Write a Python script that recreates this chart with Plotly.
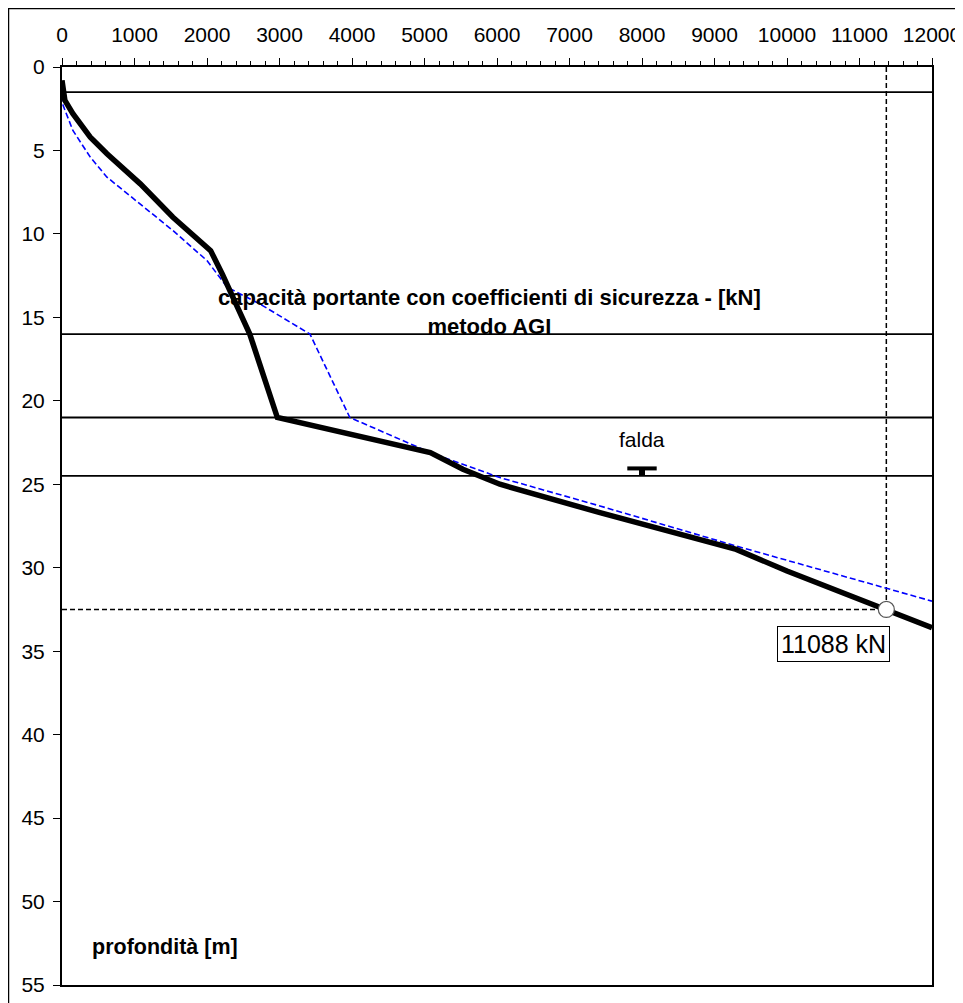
import plotly.graph_objects as go

# --- data ---
cap_black = [0, 40, 150, 390, 620, 1080, 1530, 2050, 2210, 2590, 2970, 4110, 5080, 5530, 6040, 7420, 9300, 10000, 11000, 11370, 12000]
depth_black = [0.8, 2.0, 2.8, 4.2, 5.2, 7.0, 9.0, 11.0, 12.4, 16.0, 21.0, 22.1, 23.1, 24.1, 25.0, 26.7, 28.9, 30.2, 31.9, 32.5, 33.6]

cap_blue = [0, 15, 150, 390, 620, 1080, 1530, 2000, 2280, 2730, 3420, 3970, 5080, 6040, 7420, 9300, 11370, 12000]
depth_blue = [1.7, 2.3, 3.8, 5.4, 6.6, 8.2, 9.8, 11.6, 13.2, 14.2, 16.0, 21.0, 23.1, 24.6, 26.3, 28.7, 31.2, 32.0]

layer_depths = [1.5, 16.0, 21.0, 24.5]
pile_depth = 32.5
pile_cap = 11370
pile_label = "11088 kN"
falda_x = 8000
falda_depth = 24.1

x_ticks = list(range(0, 12001, 1000))
x_ticktext = [str(v) for v in x_ticks]
y_ticks = list(range(0, 56, 5))

FONT = "Liberation Sans, Arial, sans-serif"

fig = go.Figure()

# layer boundaries
for d in layer_depths:
    fig.add_trace(go.Scatter(x=[0, 12000], y=[d, d], mode="lines",
                             line=dict(color="black", width=1.8), hoverinfo="skip"))

# pile depth guides
fig.add_trace(go.Scatter(x=[0, pile_cap], y=[pile_depth, pile_depth], mode="lines",
                         line=dict(color="black", width=1.5, dash="5px,3px")))
fig.add_trace(go.Scatter(x=[pile_cap, pile_cap], y=[0, pile_depth], mode="lines",
                         line=dict(color="black", width=1.5, dash="5px,3px")))

# blue dashed curve
fig.add_trace(go.Scatter(x=cap_blue, y=depth_blue, mode="lines",
                         line=dict(color="#0000ff", width=1.6, dash="6px,3px")))
# black curve
fig.add_trace(go.Scatter(x=cap_black, y=depth_black, mode="lines",
                         line=dict(color="black", width=5.5)))

# pile point
fig.add_trace(go.Scatter(x=[pile_cap], y=[pile_depth], mode="markers",
                         marker=dict(size=16, color="white", line=dict(color="#555555", width=1.2))))

# falda symbol
fig.add_trace(go.Scatter(x=[falda_x], y=[falda_depth - 0.05], mode="markers",
                         marker=dict(symbol="line-ew", size=21, line=dict(color="black", width=4))))
fig.add_trace(go.Scatter(x=[falda_x], y=[falda_depth + 0.17], mode="markers",
                         marker=dict(symbol="square", size=6, color="black", line=dict(width=0))))

# page body has an 8px margin: figure is offset by 8px
fig.update_layout(
    width=955, height=995,
    margin=dict(l=54, r=31, t=59, b=18),
    paper_bgcolor="white", plot_bgcolor="white",
    showlegend=False,
    font=dict(family=FONT, color="black"),
    xaxis=dict(side="top", range=[0, 12000], tickvals=x_ticks, ticktext=x_ticktext,
               showgrid=False, zeroline=False, automargin=False,
               showline=True, linecolor="black", linewidth=2, mirror=True,
               ticks="outside", ticklen=7, tickwidth=1, tickcolor="black",
               minor=dict(dtick=200, ticks="outside", ticklen=4, tickcolor="black", tickwidth=1),
               tickfont=dict(size=21, family=FONT), ticklabelstandoff=8),
    yaxis=dict(range=[55, 0], tickvals=y_ticks, showgrid=False, zeroline=False, automargin=False,
               showline=True, linecolor="black", linewidth=2, mirror=True,
               ticks="outside", ticklen=7, tickwidth=1, tickcolor="black",
               tickfont=dict(size=21, family=FONT), ticklabelstandoff=4),
)

# outer frame
fig.add_shape(type="rect", xref="paper", yref="paper",
              x0=-0.0615, x1=1.05, y0=-0.03, y1=1.0637,
              line=dict(color="black", width=1.5), fillcolor="rgba(0,0,0,0)", layer="below")

fig.add_annotation(x=5900, y=14.7, xref="x", yref="y",
                   text="<b>capacità portante con coefficienti di sicurezza - [kN]</b><br><b>metodo AGI</b>",
                   showarrow=False, font=dict(size=22, family=FONT, color="black"),
                   align="center")
fig.add_annotation(x=falda_x, y=22.3, xref="x", yref="y", text="falda", showarrow=False,
                   font=dict(size=21, family=FONT, color="black"))
fig.add_annotation(x=10640, y=34.58, xref="x", yref="y", text=pile_label, showarrow=False,
                   font=dict(size=25, family=FONT, color="black"),
                   bordercolor="black", borderwidth=1, borderpad=3, bgcolor="white")
fig.add_annotation(x=386, y=52.75, xref="x", yref="y", text="<b>profondità [m]</b>", showarrow=False,
                   xanchor="left", font=dict(size=21.5, family=FONT, color="black"))

fig.write_html("out.html")
